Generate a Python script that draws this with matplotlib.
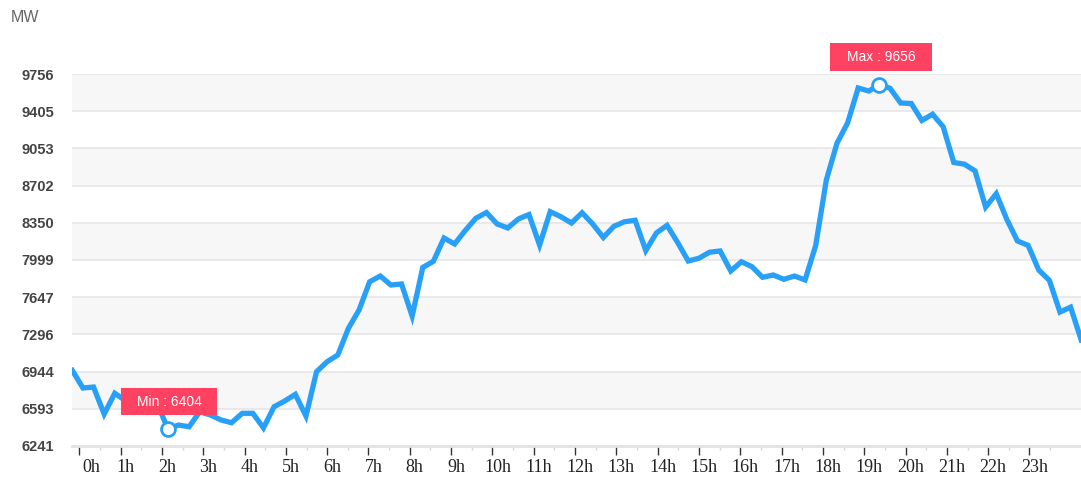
import numpy as np
import matplotlib
matplotlib.use('Agg')
import matplotlib.pyplot as plt
import matplotlib.transforms as mtransforms
from matplotlib.patches import Rectangle

# quarter-hour load readings (MW)
load_mw = [6955, 6789, 6798, 6543, 6739, 6670, 6570, 6600, 6640, 6404,
           6439, 6423, 6565, 6534, 6487, 6461, 6550, 6550, 6412, 6612,
           6666, 6729, 6524, 6943, 7038, 7101, 7353, 7526, 7793, 7847,
           7762, 7772, 7469, 7928, 7986, 8206, 8150, 8277, 8393, 8447,
           8339, 8301, 8386, 8428, 8140, 8455, 8408, 8348, 8445, 8339,
           8211, 8317, 8360, 8374, 8088, 8254, 8326, 8164, 7989, 8015,
           8072, 8084, 7895, 7982, 7935, 7835, 7857, 7816, 7847, 7810,
           8136, 8754, 9101, 9293, 9624, 9595, 9656, 9621, 9482, 9477,
           9317, 9376, 9258, 8920, 8904, 8841, 8499, 8625, 8381, 8178,
           8137, 7904, 7807, 7507, 7553, 7243]

y_ticks = [6241, 6593, 6944, 7296, 7647, 7999, 8350, 8702, 9053, 9405, 9756]
hour_labels = [f'{h}h' for h in range(24)]

LINE = '#29a0f8'
TAG = '#ff4162'
W, H = 1081, 486

plt.rcParams['font.family'] = ['Liberation Sans', 'DejaVu Sans']

fig = plt.figure(figsize=(W / 100, H / 100), dpi=100)
ax = fig.add_axes([72.3 / W, 40 / H, 1008.9 / W, 372 / H])

x = np.arange(len(load_mw))
y = np.array(load_mw)

# alternate grey bands between ticks
for lo, hi in zip(y_ticks[1::2], y_ticks[2::2]):
    ax.axhspan(lo, hi, color='#f7f7f7', zorder=0, lw=0)
for t in y_ticks[1:]:
    ax.axhline(t, color='#e6e6e6', lw=1.2, zorder=1)

ax.plot(x, y, color=LINE, lw=3.8, solid_joinstyle='miter', zorder=3)

i_min, i_max = int(np.argmin(y)), int(np.argmax(y))
ax.plot([i_min, i_max], [y[i_min], y[i_max]], 'o', ms=10, mfc='white',
        mec=LINE, mew=2, zorder=4, clip_on=False)

ax.set_xlim(0, len(load_mw) - 1)
ax.set_ylim(y_ticks[0], y_ticks[-1])

# hour ticks (category axis is offset from the samples)
hour_pos = 0.66 + 3.89 * np.arange(24)
ax.set_xticks(hour_pos)
ax.set_xticklabels(hour_labels, family=['Liberation Serif'], fontsize=13, color='#222222')
ax.set_xticks(hour_pos + 1.945, minor=True)
ax.tick_params(axis='x', which='major', length=6.5, width=1, color='#333333', pad=3)
ax.tick_params(axis='x', which='minor', length=3, width=1, color='#d6d6d6')
for k, lab in enumerate(ax.get_xticklabels()):
    dx = 12 if k == 0 else 5
    lab.set_transform(lab.get_transform() +
                      mtransforms.ScaledTranslation(dx / 100, 0, fig.dpi_scale_trans))

ax.set_yticks(y_ticks)
ax.set_yticklabels([str(t) for t in y_ticks], fontsize=10.5, fontweight='bold', color='#444444')
ax.tick_params(axis='y', length=0, pad=13)

for side in ['top', 'right', 'left']:
    ax.spines[side].set_visible(False)
ax.spines['bottom'].set_color('#e2e2e2')
ax.spines['bottom'].set_linewidth(2)

fig.text(11 / W, 1 - 18 / H, 'MW', fontsize=11.5, color='#666666', va='center', ha='left')

# min / max tags
for idx, name, bw, bh in [(i_min, 'Min', 96, 27), (i_max, 'Max', 102, 28)]:
    px, py = ax.transData.transform((idx, y[idx]))
    cx = px + 1.6
    y0 = py + 13.5
    fig.add_artist(Rectangle(((cx - bw / 2) / W, y0 / H), bw / W, bh / H,
                             transform=fig.transFigure, color=TAG, lw=0, zorder=5))
    fig.text(cx / W, (y0 + bh / 2) / H, f'{name} : {y[idx]}', color='white',
             fontsize=10, ha='center', va='center', zorder=6)

fig.savefig('out.png', dpi=100)
